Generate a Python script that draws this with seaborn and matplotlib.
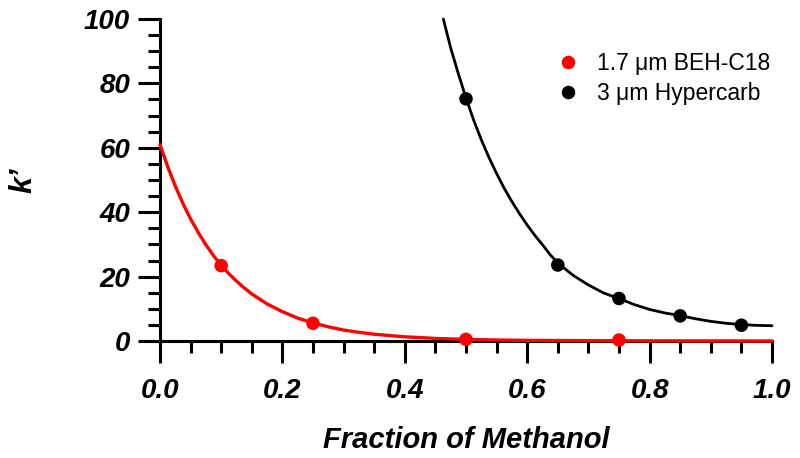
import numpy as np
import pandas as pd
import matplotlib
matplotlib.use("Agg")
import matplotlib.pyplot as plt
import seaborn as sns
from matplotlib.ticker import MultipleLocator

# ---------------- data ----------------
series_names = ["1.7 μm BEH-C18", "3 μm Hypercarb"]
series_colors = ["#ff0000", "#000000"]

c18_x = [0.10, 0.25, 0.50, 0.75]
c18_k = [23.4, 5.5, 0.5, 0.3]

hyp_x = [0.50, 0.65, 0.75, 0.85, 0.95]
hyp_k = [75.2, 23.6, 13.2, 7.8, 4.9]

# fitted curves, sampled by eye along the drawn lines
c18_fit_x = [0.0, 0.0125, 0.025, 0.0375, 0.05, 0.0625, 0.075, 0.0875, 0.10,
             0.1125, 0.125, 0.1375, 0.15, 0.175, 0.20, 0.225, 0.25, 0.275,
             0.30, 0.325, 0.35, 0.375, 0.40, 0.45, 0.50, 0.55, 0.60, 0.70,
             0.80, 1.00]
c18_fit_k = [61.0, 54.2, 48.1, 42.7, 37.9, 33.7, 29.9, 26.5, 23.5,
             20.9, 18.6, 16.5, 14.6, 11.5, 9.1, 7.1, 5.6, 4.4,
             3.4, 2.7, 2.1, 1.7, 1.3, 0.8, 0.5, 0.3, 0.2, 0.1,
             0.05, 0.0]

hyp_fit_x = [0.463, 0.475, 0.4875, 0.50, 0.5125, 0.525, 0.5375, 0.55,
             0.5625, 0.575, 0.5875, 0.60, 0.6125, 0.625, 0.6375, 0.65,
             0.675, 0.70, 0.725, 0.75, 0.775, 0.80, 0.825, 0.85, 0.875,
             0.90, 0.925, 0.95, 0.975, 1.00]
hyp_fit_k = [100.0, 91.0, 83.0, 75.5, 68.6, 62.5, 57.0, 52.0,
             47.4, 43.3, 39.5, 36.0, 32.8, 29.9, 26.8, 24.2,
             20.4, 17.4, 14.9, 13.2, 11.3, 9.8, 8.7, 7.9, 6.9,
             6.1, 5.5, 5.1, 4.85, 4.75]

x_ticks = [0.0, 0.2, 0.4, 0.6, 0.8, 1.0]
x_tick_labels = ["0.0", "0.2", "0.4", "0.6", "0.8", "1.0"]
y_ticks = [0, 20, 40, 60, 80, 100]
y_tick_labels = ["0", "20", "40", "60", "80", "100"]

x_label = "Fraction of Methanol"
y_label = "k\u2019"

# ---------------- tables ----------------
pts = pd.DataFrame({
    "x": c18_x + hyp_x,
    "k": c18_k + hyp_k,
    "series": [series_names[0]] * len(c18_x) + [series_names[1]] * len(hyp_x),
})
fit_c18 = pd.DataFrame({"x": c18_fit_x, "k": c18_fit_k})
fit_hyp = pd.DataFrame({"x": hyp_fit_x, "k": hyp_fit_k})

# ---------------- figure ----------------
sns.set_theme(style="white")
plt.rcParams["font.family"] = ["Liberation Sans", "DejaVu Sans"]

fig = plt.figure(figsize=(8.0, 4.58), dpi=100)
ax = fig.add_axes([0.20, 1 - 341 / 458, 0.765, 322 / 458])

sns.lineplot(data=fit_hyp, x="x", y="k", ax=ax, color=series_colors[1],
             linewidth=2.0, sort=False, estimator=None, legend=False,
             zorder=3)
sns.lineplot(data=fit_c18, x="x", y="k", ax=ax, color=series_colors[0],
             linewidth=2.4, sort=False, estimator=None, legend=False,
             zorder=4)
sns.scatterplot(data=pts, x="x", y="k", hue="series",
                palette=dict(zip(series_names, series_colors)),
                s=95, edgecolor="none", ax=ax, zorder=5, legend=True)

for ln in ax.lines:
    ln.set_clip_on(False)
    ln.set_solid_joinstyle("round")
for coll in ax.collections:
    coll.set_clip_on(False)

ax.set_xlim(0, 1.0)
ax.set_ylim(0, 100)

ax.set_xticks(x_ticks)
ax.set_xticklabels(x_tick_labels)
ax.set_yticks(y_ticks)
ax.set_yticklabels(y_tick_labels)
ax.xaxis.set_minor_locator(MultipleLocator(0.05))
ax.yaxis.set_minor_locator(MultipleLocator(5))

for side in ["top", "right"]:
    ax.spines[side].set_visible(False)
for side in ["left", "bottom"]:
    ax.spines[side].set_linewidth(2.2)
    ax.spines[side].set_color("black")
    ax.spines[side].set_zorder(2)

ax.tick_params(axis="both", which="major", direction="out", length=15.5,
               width=2.2, color="black", bottom=True, left=True)
ax.tick_params(axis="both", which="minor", direction="out", length=8.5,
               width=2.2, color="black", bottom=True, left=True)
ax.tick_params(axis="x", which="major", pad=11)
ax.tick_params(axis="y", which="major", pad=6)

for lab in ax.get_xticklabels() + ax.get_yticklabels():
    lab.set_fontsize(20)
    lab.set_fontweight("bold")
    lab.set_fontstyle("italic")
    lab.set_color("black")

ax.set_xlabel(x_label, fontsize=21, fontweight="bold", fontstyle="italic",
              color="black")
ax.set_ylabel(y_label, fontsize=22, fontweight="bold", fontstyle="italic",
              color="black")
ax.xaxis.set_label_coords(0.5, -0.265)
ax.yaxis.set_label_coords(-0.198, 0.50)

handles, labels = ax.get_legend_handles_labels()
leg = ax.legend(handles, labels, loc="upper left",
                bbox_to_anchor=(557 / 800, 1 - 52 / 458),
                bbox_transform=fig.transFigure, frameon=False,
                fontsize=16.5, handlelength=1.0, handletextpad=0.75,
                labelspacing=0.3, borderpad=0, borderaxespad=0,
                markerscale=1.0)
for t in leg.get_texts():
    t.set_color("black")

fig.savefig("out.png", dpi=100, facecolor="white")
